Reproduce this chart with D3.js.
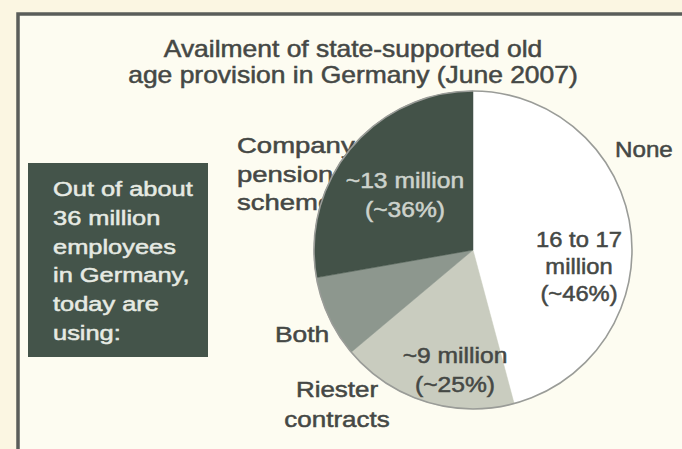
<!DOCTYPE html>
<html>
<head>
<meta charset="utf-8">
<script src="https://cdn.jsdelivr.net/npm/d3@7"></script>
<style>
  html, body { margin: 0; padding: 0; background: #fbf6e2; }
  svg { display: block; }
  text { font-family: "Liberation Sans", Arial, sans-serif; }
</style>
</head>
<body>
<svg id="chart" width="682" height="449"></svg>
<script>
// Employees in Germany (millions, June 2007), split into non-overlapping groups
const groups = ["None", "Riester only", "Both", "Company only"];
const millions = [16.5, 6.5, 3.0, 10.0];
const fills = ["#ffffff", "#c9ccbf", "#8d978e", "#435248"];

const titleLines = ["Availment of state-supported old", "age provision in Germany (June 2007)"];
const boxLines = ["Out of about", "36 million", "employees", "in Germany,", "today are", "using:"];
const companyLines = ["Company", "pension", "schemes"];
const riesterLines = ["Riester", "contracts"];
const companyValue = ["~13 million", "(~36%)"];
const noneValue = ["16 to 17", "million", "(~46%)"];
const riesterValue = ["~9 million", "(~25%)"];

const svg = d3.select("#chart");

// panel frame
svg.append("rect").attr("x", 18).attr("y", 14).attr("width", 700).attr("height", 460)
  .attr("fill", "#fdfcf1");
svg.append("path").attr("d", "M18,460 V14 H690")
  .attr("fill", "none").attr("stroke", "#5a5d5a").attr("stroke-width", 3.5);

// helper: horizontally widened text lines
function lines(g, arr, x, y0, dy, opts) {
  arr.forEach((t, i) => {
    g.append("text")
      .attr("transform", `translate(${x},${y0 + i * dy}) scale(${opts.sx},1)`)
      .attr("text-anchor", opts.anchor || "start")
      .attr("font-size", opts.size)
      .attr("fill", opts.color)
      .attr("stroke", opts.color).attr("stroke-width", 0.5)
      .text(t);
  });
}

const dark = "#454845";

// title
lines(svg.append("g"), titleLines, 353, 57, 26, {sx: 1.15, size: 23, anchor: "middle", color: dark});

// side box
svg.append("rect").attr("x", 28).attr("y", 163).attr("width", 180).attr("height", 194)
  .attr("fill", "#44544a");
lines(svg.append("g"), boxLines, 53, 196, 28.8, {sx: 1.27, size: 20, color: "#e6eae3"});

// outside labels (drawn below the pie)
lines(svg.append("g"), companyLines, 237, 153, 28.5, {sx: 1.25, size: 22, color: dark});
lines(svg.append("g"), ["None"], 615, 157, 0, {sx: 1.1, size: 22, color: dark});
lines(svg.append("g"), ["Both"], 275, 342, 0, {sx: 1.2, size: 22, color: dark});
lines(svg.append("g"), riesterLines, 337, 397, 30, {sx: 1.18, size: 22, anchor: "middle", color: dark});

// pie
const cx = 473, cy = 250, r = 159;
const pie = d3.pie().sort(null).value(d => d.v);
const arcs = pie(groups.map((g, i) => ({g, v: millions[i], fill: fills[i]})));
const arc = d3.arc().innerRadius(0).outerRadius(r);
const pg = svg.append("g").attr("transform", `translate(${cx},${cy})`);
pg.selectAll("path").data(arcs).join("path")
  .attr("d", arc)
  .attr("fill", d => d.data.fill)
  .attr("stroke", d => d.data.fill)
  .attr("stroke-width", 0.5);
pg.append("circle").attr("r", r).attr("fill", "none")
  .attr("stroke", "#9a9c98").attr("stroke-width", 1.6);

// value labels
lines(svg.append("g"), companyValue, 405, 188, 29, {sx: 1.12, size: 22, anchor: "middle", color: "#cdd2cc"});
lines(svg.append("g"), noneValue, 579, 247, 27, {sx: 1.08, size: 22, anchor: "middle", color: dark});
lines(svg.append("g"), riesterValue, 455, 363, 29, {sx: 1.12, size: 22, anchor: "middle", color: dark});
</script>
</body>
</html>
